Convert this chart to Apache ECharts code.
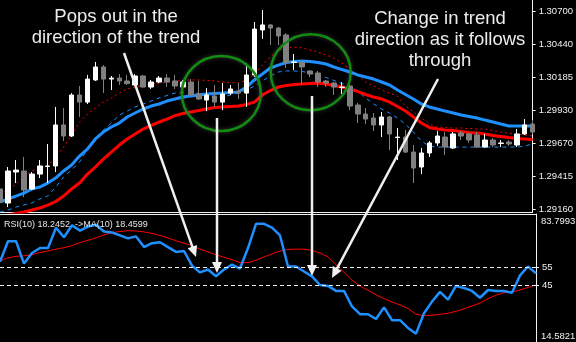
<!DOCTYPE html>
<html><head><meta charset="utf-8">
<script src="https://cdn.jsdelivr.net/npm/echarts@6/dist/echarts.min.js"></script>
<style>html,body{margin:0;padding:0;background:#000;}#c{width:576px;height:342px;}</style>
</head><body><div id="c"></div>
<script>
// [open, close, low, high]
const ohlc = [
[1.29316,1.29214,1.29199,1.29331],[1.29207,1.29456,1.29176,1.29487],[1.29448,1.29463,1.29362,1.29541],[1.29456,1.29308,1.29253,1.29565],
[1.29316,1.29432,1.29308,1.29448],[1.29432,1.29495,1.29401,1.29541],[1.29491,1.29495,1.29362,1.29666],[1.29495,1.29814,1.29448,1.29954],
[1.29814,1.29728,1.29689,1.29946],[1.29728,1.30047,1.29720,1.30062],[1.30047,1.29992,1.29876,1.30117],[1.29992,1.30171,1.29977,1.30203],
[1.30164,1.30265,1.30156,1.30304],[1.30265,1.30171,1.30062,1.30280],[1.30171,1.30179,1.30086,1.30195],[1.30179,1.30156,1.30125,1.30210],
[1.30156,1.30136,1.30125,1.30203],[1.30125,1.30195,1.30117,1.30210],[1.30195,1.30109,1.30105,1.30203],[1.30109,1.30148,1.30094,1.30164],
[1.30148,1.30179,1.30140,1.30195],[1.30179,1.30148,1.30109,1.30210],[1.30156,1.30117,1.30094,1.30203],[1.30109,1.30148,1.30094,1.30164],
[1.30148,1.30047,1.30039,1.30171],[1.30055,1.30016,1.30008,1.30156],[1.30008,1.30047,1.29922,1.30101],[1.30039,1.29992,1.29954,1.30125],
[1.29992,1.30055,1.29930,1.30140],[1.30062,1.30094,1.30047,1.30125],[1.30078,1.30062,1.30016,1.30140],[1.30062,1.30203,1.29954,1.30296],
[1.30203,1.30560,1.30187,1.30615],[1.30553,1.30592,1.30483,1.30708],[1.30592,1.30568,1.30436,1.30599],[1.30568,1.30506,1.30436,1.30576],
[1.30514,1.30296,1.30257,1.30529],[1.30300,1.30304,1.30241,1.30366],[1.30304,1.30265,1.30125,1.30311],[1.30234,1.30210,1.30187,1.30241],
[1.30218,1.30148,1.30109,1.30234],[1.30156,1.30140,1.30109,1.30164],[1.30140,1.30109,1.30047,1.30148],[1.30105,1.30109,1.30055,1.30148],
[1.30117,1.29961,1.29930,1.30125],[1.29969,1.29899,1.29829,1.29985],[1.29899,1.29860,1.29821,1.29946],[1.29868,1.29814,1.29767,1.29907],
[1.29814,1.29876,1.29720,1.29915],[1.29876,1.29744,1.29619,1.29884],[1.29716,1.29720,1.29541,1.29790],[1.29720,1.29603,1.29596,1.29775],
[1.29603,1.29479,1.29362,1.29658],[1.29487,1.29596,1.29432,1.29635],[1.29596,1.29674,1.29565,1.29689],[1.29674,1.29728,1.29650,1.29767],
[1.29720,1.29642,1.29580,1.29759],[1.29635,1.29744,1.29627,1.29759],[1.29751,1.29728,1.29697,1.29767],[1.29744,1.29697,1.29674,1.29751],
[1.29736,1.29642,1.29635,1.29759],[1.29642,1.29697,1.29635,1.29744],[1.29697,1.29658,1.29642,1.29712],[1.29670,1.29674,1.29642,1.29697],
[1.29681,1.29666,1.29650,1.29697],[1.29658,1.29744,1.29642,1.29782],[1.29744,1.29814,1.29736,1.29860],[1.29821,1.29759,1.29744,1.29852]
];
const maBlue = [1.29214,1.29238,1.29261,1.29284,1.29316,1.29331,1.29362,1.29401,1.29456,1.29502,1.29572,1.29627,1.29705,1.29759,1.29798,1.29829,
1.29876,1.29907,1.29938,1.29961,1.29977,1.30000,1.30016,1.30031,1.30039,1.30047,1.30055,1.30059,1.30062,1.30066,1.30070,1.30109,
1.30164,1.30210,1.30257,1.30280,1.30300,1.30308,1.30311,1.30308,1.30300,1.30288,1.30265,1.30245,1.30226,1.30203,1.30187,1.30171,
1.30148,1.30125,1.30086,1.30051,1.30016,1.29977,1.29954,1.29938,1.29922,1.29907,1.29891,1.29880,1.29868,1.29852,1.29837,1.29821,
1.29806,1.29806,1.29806,1.29806];
const maRed = [1.29098,1.29113,1.29125,1.29137,1.29152,1.29168,1.29191,1.29218,1.29261,1.29316,1.29362,1.29432,1.29487,1.29549,1.29603,1.29658,
1.29705,1.29744,1.29782,1.29810,1.29837,1.29860,1.29887,1.29903,1.29915,1.29926,1.29938,1.29950,1.29954,1.29958,1.29961,1.29973,
1.29992,1.30047,1.30082,1.30109,1.30121,1.30129,1.30132,1.30136,1.30140,1.30132,1.30121,1.30109,1.30094,1.30074,1.30051,1.30031,
1.30016,1.29992,1.29958,1.29922,1.29876,1.29829,1.29794,1.29782,1.29775,1.29771,1.29763,1.29755,1.29751,1.29744,1.29732,1.29724,
1.29716,1.29709,1.29705,1.29701];
const bandRed = [1.29277,1.29308,1.29355,1.29409,1.29456,1.29479,1.29495,1.29565,1.29642,1.29736,1.29837,1.29899,1.29946,1.29992,1.30024,1.30062,
1.30094,1.30109,1.30125,1.30132,1.30140,1.30148,1.30156,1.30160,1.30164,1.30164,1.30160,1.30156,1.30148,1.30144,1.30140,1.30164,
1.30210,1.30280,1.30343,1.30397,1.30409,1.30420,1.30413,1.30397,1.30381,1.30358,1.30335,1.30296,1.30249,1.30203,1.30148,1.30117,
1.30086,1.30062,1.30039,1.29961,1.29915,1.29868,1.29821,1.29798,1.29794,1.29790,1.29790,1.29786,1.29782,1.29782,1.29771,1.29759,
1.29751,1.29744,1.29736,1.29728];
const bandBlue = [1.29137,1.29152,1.29176,1.29191,1.29207,1.29238,1.29261,1.29331,1.29409,1.29463,1.29526,1.29627,1.29712,1.29775,1.29829,1.29891,
1.29922,1.29954,1.29977,1.30000,1.30024,1.30043,1.30062,1.30066,1.30062,1.30059,1.30047,1.30035,1.30031,1.30047,1.30062,1.30086,
1.30117,1.30156,1.30195,1.30226,1.30234,1.30234,1.30230,1.30218,1.30203,1.30183,1.30160,1.30136,1.30117,1.30078,1.30024,1.29977,
1.29938,1.29907,1.29868,1.29821,1.29759,1.29689,1.29650,1.29642,1.29642,1.29642,1.29642,1.29642,1.29642,1.29642,1.29642,1.29642,
1.29642,1.29642,1.29650,1.29666];
const rsi = [58.0,69.1,69.1,57.0,62.7,65.4,65.4,76.4,71.2,77.7,74.8,77.0,78.0,74.3,73.8,72.2,70.6,71.7,65.9,68.0,68.5,65.9,63.3,63.8,
55.9,52.2,53.8,50.1,53.8,56.4,54.3,65.4,78.5,78.5,76.4,72.2,55.4,55.4,52.7,50.1,45.4,44.9,42.2,42.2,33.8,29.6,29.6,27.0,
33.3,26.4,26.4,22.2,19.1,30.1,36.4,41.7,37.5,44.9,43.8,42.2,38.5,42.7,42.2,42.2,41.2,50.6,55.4,51.7];
const rsiMa = [58.5,60.1,60.9,61.2,61.7,63.0,63.8,64.8,65.6,66.7,68.3,69.6,70.9,72.5,73.8,74.3,74.8,74.6,74.1,73.3,72.2,70.9,69.3,68.0,
66.7,64.8,63.3,61.7,60.4,59.1,57.5,57.5,58.8,60.6,62.2,63.8,64.6,64.8,64.8,64.1,62.7,60.6,56.4,52.2,48.0,44.9,42.5,40.1,
38.0,36.2,34.6,32.7,29.6,28.8,29.1,29.6,30.1,31.2,32.5,34.1,35.6,38.0,39.9,41.2,41.7,42.7,44.1,45.4];
const priceTicks = [1.29160,1.29415,1.29670,1.29930,1.30185,1.30440,1.30700];
const priceRange = [1.29137,1.30786];
const rsiLevels = [55,45];
const rsiRange = [14.5821,83.7993];
const rsiLegend = 'RSI(10) 18.2452  ->MA(10) 18.4599';
const noteLeft = ['Pops out in the','direction of the trend'];
const noteRight = ['Change in trend','direction as it follows','through'];

const cats = ohlc.map((_, i) => i);
const FONT = '"Liberation Sans", Arial, sans-serif';
const WHITE = '#f0f0f0';
const LABEL_SIZE = 9.5;

function arrow(x1, y1, x2, y2) {
  const dx = x2 - x1, dy = y2 - y1, L = Math.hypot(dx, dy), ux = dx / L, uy = dy / L;
  const hl = 11, hw = 5;
  const bx = x2 - ux * hl, by = y2 - uy * hl;
  return [
    {type:'line', z:100, shape:{x1:x1, y1:y1, x2:bx + ux, y2:by + uy}, style:{stroke:WHITE, lineWidth:2.5}},
    {type:'polygon', z:100, shape:{points:[[x2,y2],[bx - uy*hw, by + ux*hw],[bx + uy*hw, by - ux*hw]]}, style:{fill:WHITE}}
  ];
}
function textLine(t, x, y) {
  return {type:'text', z:100, x:x, y:y, style:{text:t, fill:'#ececec', font:'18.5px ' + FONT, align:'center', verticalAlign:'middle'}};
}

const graphics = [];
noteLeft.forEach((t, i) => graphics.push(textLine(t, 116, 16.5 + i * 21.5)));
noteRight.forEach((t, i) => graphics.push(textLine(t, 440, 18.5 + i * 21)));
graphics.push({type:'ellipse', z:90, shape:{cx:221.3, cy:93.5, rx:39.5, ry:37.5}, style:{fill:'none', stroke:'#118c11', lineWidth:2.5, shadowBlur:4, shadowColor:'rgba(160,160,160,0.35)'}});
graphics.push({type:'ellipse', z:90, shape:{cx:310.7, cy:72.3, rx:40, ry:38}, style:{fill:'none', stroke:'#118c11', lineWidth:2.5, shadowBlur:4, shadowColor:'rgba(160,160,160,0.35)'}});
graphics.push(...arrow(124, 53, 196, 257));
graphics.push(...arrow(217, 118, 217, 273));
graphics.push(...arrow(312, 96, 312, 276));
graphics.push(...arrow(438, 79, 332, 278));
graphics.push({type:'text', z:100, x:4, y:225, style:{text:rsiLegend, fill:'#e6e6e6', font:'9px ' + FONT, verticalAlign:'middle'}});
graphics.push({type:'text', z:100, x:541, y:221.5, style:{text:rsiRange[1].toFixed(4), fill:WHITE, font:LABEL_SIZE + 'px ' + FONT, verticalAlign:'middle'}});
graphics.push({type:'text', z:100, x:541, y:336.5, style:{text:rsiRange[0].toFixed(4), fill:WHITE, font:LABEL_SIZE + 'px ' + FONT, verticalAlign:'middle'}});

const chart = echarts.init(document.getElementById('c'));
chart.setOption({
  backgroundColor: '#000',
  animation: false,
  grid: [
    {left:0, top:0, width:536, height:212},
    {left:0, top:214, width:536, height:131.5}
  ],
  xAxis: [
    {type:'category', gridIndex:0, data:cats, boundaryGap:false, axisLine:{show:true, lineStyle:{color:WHITE, width:1}}, axisTick:{show:false}, axisLabel:{show:false}, splitLine:{show:false}},
    {type:'category', gridIndex:1, data:cats, boundaryGap:false, position:'top', axisLine:{show:true, lineStyle:{color:WHITE, width:1}}, axisTick:{show:false}, axisLabel:{show:false}, splitLine:{show:false}}
  ],
  yAxis: [
    {type:'value', gridIndex:0, position:'right', min:priceRange[0], max:priceRange[1], scale:true,
     axisLine:{show:true, lineStyle:{color:WHITE}},
     axisTick:{show:true, length:3, customValues:priceTicks, lineStyle:{color:WHITE}},
     axisLabel:{customValues:priceTicks, color:WHITE, fontSize:LABEL_SIZE, fontFamily:FONT, margin:6, formatter:(v) => v.toFixed(5)},
     splitLine:{show:false}},
    {type:'value', gridIndex:1, position:'right', min:rsiRange[0], max:rsiRange[1],
     axisLine:{show:true, lineStyle:{color:WHITE}},
     axisTick:{show:true, length:3, customValues:rsiLevels, lineStyle:{color:WHITE}},
     axisLabel:{customValues:rsiLevels, color:WHITE, fontSize:LABEL_SIZE, fontFamily:FONT, margin:6, formatter:(v) => String(v)},
     splitLine:{show:false}}
  ],
  series: [
    {type:'line', xAxisIndex:0, yAxisIndex:0, data:bandBlue, symbol:'none', z:2, lineStyle:{color:'#1e90ff', width:1, type:[4,4]}},
    {type:'line', xAxisIndex:0, yAxisIndex:0, data:bandRed, symbol:'none', z:2, lineStyle:{color:'#ff0000', width:1, type:[2,3]}},
    {type:'line', xAxisIndex:0, yAxisIndex:0, data:maRed, symbol:'none', z:2, lineStyle:{color:'#ff0000', width:3}},
    {type:'line', xAxisIndex:0, yAxisIndex:0, data:maBlue, symbol:'none', z:2, lineStyle:{color:'#1e90ff', width:3}},
    {type:'candlestick', xAxisIndex:0, yAxisIndex:0, data:ohlc, barWidth:5, z:3, clip:true,
     itemStyle:{color:'#ffffff', color0:'#808080', borderColor:'#ffffff', borderColor0:'#808080', borderWidth:1}},
    {type:'line', xAxisIndex:1, yAxisIndex:1, data:rsiMa, symbol:'none', z:2, lineStyle:{color:'#ff0000', width:1}},
    {type:'line', xAxisIndex:1, yAxisIndex:1, data:rsi, symbol:'none', z:3, lineStyle:{color:'#1e90ff', width:2.5},
     markLine:{silent:true, symbol:'none', label:{show:false}, lineStyle:{color:WHITE, type:[4,3], width:1},
       data: rsiLevels.map(v => ({yAxis:v}))}}
  ],
  graphic: graphics
});
</script>
</body></html>
